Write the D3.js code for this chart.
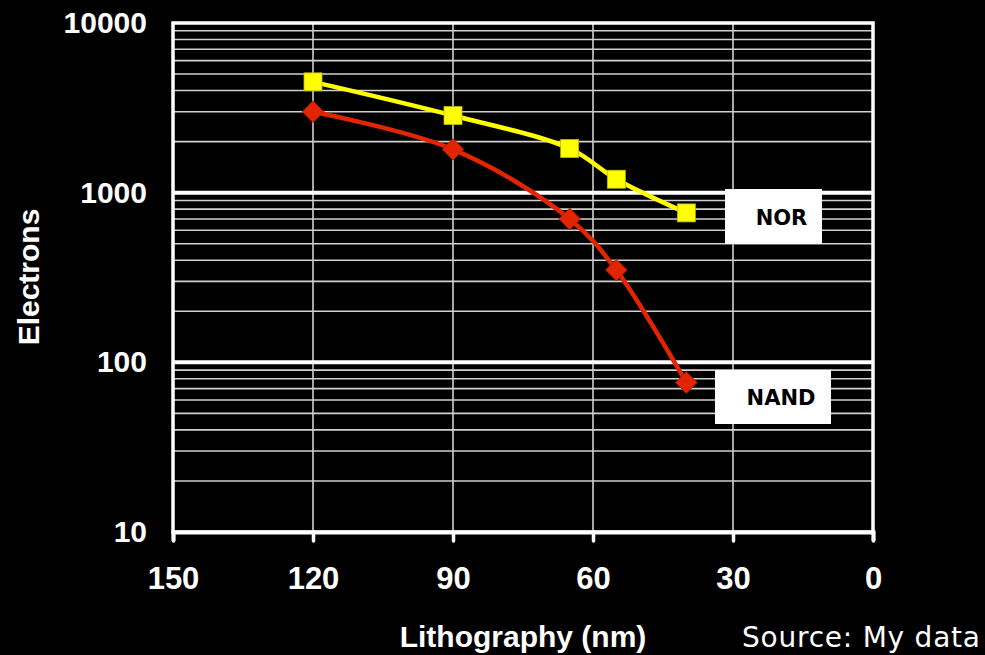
<!DOCTYPE html>
<html>
<head>
<meta charset="utf-8">
<script src="https://cdn.jsdelivr.net/npm/d3@7"></script>
<style>
  html, body { margin: 0; padding: 0; background: #000; }
  svg { display: block; }
</style>
</head>
<body>
<div id="chart"></div>
<script>
// data
var lithography = [120, 90, 65, 55, 40];
var norValues = [4500, 2850, 1820, 1200, 760];
var nandValues = [3000, 1800, 700, 350, 76];
var xTicks = [150, 120, 90, 60, 30, 0];
var yTicks = [10, 100, 1000, 10000];

var width = 985;
var height = 655;
var margin = {left: 173, right: 112, top: 23, bottom: 123};

var svg = d3.select("#chart").append("svg")
  .attr("width", width)
  .attr("height", height)
  .style("background", "#000");

var x = d3.scaleLinear()
  .domain([150, 0])
  .range([margin.left, width - margin.right]);

var y = d3.scaleLog()
  .domain([10, 10000])
  .range([height - margin.bottom, margin.top]);

var grid = svg.append("g");

// minor horizontal lines (2..9 in every decade)
var minor = [];
[10, 100, 1000].forEach(function(d) {
  for (var k = 2; k <= 9; k++) minor.push(d * k);
});
grid.selectAll(".minor")
  .data(minor)
  .enter().append("line")
  .attr("x1", x(150)).attr("x2", x(0))
  .attr("y1", function(d) { return y(d); })
  .attr("y2", function(d) { return y(d); })
  .attr("stroke", "#d0d0d0")
  .attr("stroke-width", 1.6);

// vertical lines
grid.selectAll(".vline")
  .data(xTicks.filter(function(d) { return d != 150 && d != 0; }))
  .enter().append("line")
  .attr("x1", function(d) { return x(d); })
  .attr("x2", function(d) { return x(d); })
  .attr("y1", y(10000)).attr("y2", y(10))
  .attr("stroke", "#d0d0d0")
  .attr("stroke-width", 1.6);

// decade lines
grid.selectAll(".major")
  .data([100, 1000])
  .enter().append("line")
  .attr("x1", x(150)).attr("x2", x(0))
  .attr("y1", function(d) { return y(d); })
  .attr("y2", function(d) { return y(d); })
  .attr("stroke", "#fff")
  .attr("stroke-width", 4);

// plot frame
svg.append("rect")
  .attr("x", x(150)).attr("y", y(10000))
  .attr("width", x(0) - x(150))
  .attr("height", y(10) - y(10000))
  .attr("fill", "none")
  .attr("stroke", "#fff")
  .attr("stroke-width", 3.5);

// x axis
var xAxis = svg.append("g")
  .attr("transform", "translate(0," + y(10) + ")")
  .call(d3.axisBottom(x).tickValues(xTicks).tickSize(9).tickPadding(26));
xAxis.select(".domain").attr("stroke", "#fff").attr("stroke-width", 4);
xAxis.selectAll(".tick line").attr("stroke", "#fff").attr("stroke-width", 3.5)
  .attr("stroke-linecap", "round");
xAxis.selectAll("text")
  .attr("fill", "#fff")
  .style("font", "bold 31px 'Liberation Sans', Arial, sans-serif");

// y axis
var yAxis = svg.append("g")
  .attr("transform", "translate(" + x(150) + ",0)")
  .call(d3.axisLeft(y).tickValues(yTicks).tickFormat(d3.format("d")).tickSize(0).tickPadding(26));
yAxis.select(".domain").remove();
yAxis.selectAll("text")
  .attr("fill", "#fff")
  .style("font", "bold 30px 'Liberation Sans', Arial, sans-serif");

// titles
svg.append("text")
  .attr("x", 523).attr("y", 647)
  .attr("text-anchor", "middle")
  .attr("fill", "#fff")
  .style("font", "bold 30px 'Liberation Sans', Arial, sans-serif")
  .text("Lithography (nm)");

svg.append("text")
  .attr("transform", "translate(39,277) rotate(-90)")
  .attr("text-anchor", "middle")
  .attr("fill", "#fff")
  .style("font", "bold 30px 'Liberation Sans', Arial, sans-serif")
  .text("Electrons");

svg.append("text")
  .attr("x", 742).attr("y", 647)
  .attr("fill", "#fff")
  .style("font", "28px 'DejaVu Sans', sans-serif")
  .attr("textLength", 238)
  .text("Source: My data");

// series
var line = d3.line()
  .x(function(d) { return x(d[0]); })
  .y(function(d) { return y(d[1]); })
  .curve(d3.curveCatmullRom.alpha(0.5));

var nor = d3.zip(lithography, norValues);
var nand = d3.zip(lithography, nandValues);

svg.append("path")
  .datum(nor)
  .attr("d", line)
  .attr("fill", "none")
  .attr("stroke", "#ffff00")
  .attr("stroke-width", 4.5);

svg.append("path")
  .datum(nand)
  .attr("d", line)
  .attr("fill", "none")
  .attr("stroke", "#e32400")
  .attr("stroke-width", 4.5);

svg.selectAll(".sq")
  .data(nor)
  .enter().append("rect")
  .attr("x", function(d) { return x(d[0]) - 9; })
  .attr("y", function(d) { return y(d[1]) - 9; })
  .attr("width", 18).attr("height", 18)
  .attr("fill", "#ffff00")
  .attr("stroke", "#b8b800")
  .attr("stroke-width", 0.8);

svg.selectAll(".dm")
  .data(nand)
  .enter().append("path")
  .attr("d", d3.symbol().type(d3.symbolDiamond2).size(300))
  .attr("transform", function(d) { return "translate(" + x(d[0]) + "," + y(d[1]) + ")"; })
  .attr("fill", "#e32400")
  .attr("stroke", "#a81a00")
  .attr("stroke-width", 0.8);

// labels
function label(text, bx, by, bw, bh) {
  svg.append("rect")
    .attr("x", bx).attr("y", by)
    .attr("width", bw).attr("height", bh)
    .attr("fill", "#fff");
  svg.append("text")
    .attr("x", bx + bw / 2 + 8).attr("y", by + bh / 2 + 8)
    .attr("text-anchor", "middle")
    .attr("fill", "#000")
    .style("font", "bold 21px 'DejaVu Sans', sans-serif")
    .text(text);
}
label("NOR", 725, 189, 97, 55);
label("NAND", 715, 370, 116, 54);
</script>
</body>
</html>
